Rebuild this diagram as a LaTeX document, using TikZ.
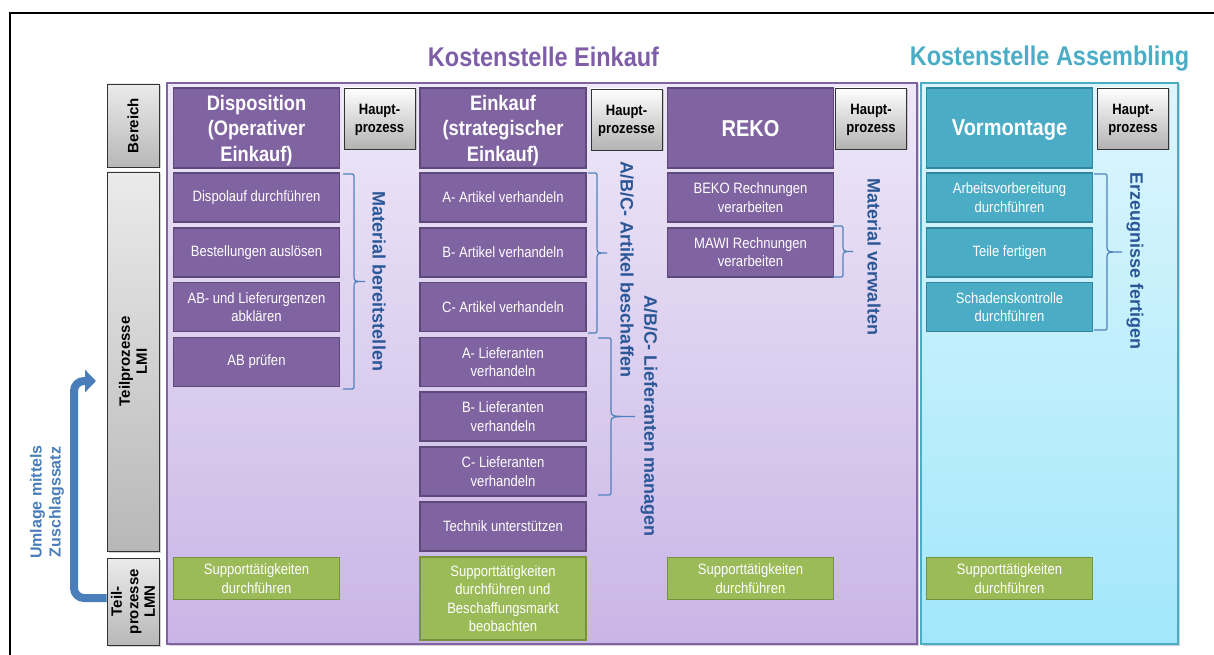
\documentclass[tikz,border=0pt]{standalone}
\usepackage{fontspec}
\setmainfont{Liberation Sans}[FakeStretch=0.87]
\newfontfamily\hochfont{Liberation Sans}
\usepackage{xcolor}
\usetikzlibrary{arrows.meta, shadows}

\definecolor{lila}{HTML}{8064A2}
\definecolor{lilaRand}{HTML}{5F497A}
\definecolor{lilaHell}{HTML}{EEE8F8}
\definecolor{lilaBg}{HTML}{C9B5E6}
\definecolor{titellila}{HTML}{7E5EA8}
\definecolor{tuerkis}{HTML}{4BACC6}
\definecolor{tuerkisRand}{HTML}{31859C}
\definecolor{tuerkisHell}{HTML}{DDF6FD}
\definecolor{tuerkisBg}{HTML}{A2E7FB}
\definecolor{gruen}{HTML}{9BBB59}
\definecolor{gruenRand}{HTML}{76923C}
\definecolor{klammerblau}{HTML}{4F81BD}
\definecolor{textblau}{HTML}{2B5797}
\definecolor{umlageblau}{HTML}{4A7EBB}

\begin{document}
\begin{tikzpicture}[x=1pt, y=-1pt,
    schatten/.style={drop shadow={shadow xshift=1.5pt, shadow yshift=-1.5pt, opacity=0.35}},
    kasten/.style={inner sep=0pt, align=center, text=white, line width=1.6pt},
    kopf/.style={kasten, draw=lilaRand, fill=lila, minimum width=166pt, minimum height=80pt,
        text depth=-1pt, font=\bfseries\fontsize{21}{25.5}\selectfont},
    teil/.style={kasten, draw=lilaRand, fill=lila, minimum width=166pt, minimum height=49pt,
        font=\fontsize{15}{18.5}\selectfont},
    support/.style={kasten, draw=gruenRand, fill=gruen, minimum width=166pt, minimum height=42pt,
        font=\fontsize{15}{18.5}\selectfont},
    haupt/.style={schatten, draw=black!80, line width=0.9pt, top color=white, bottom color=black!30,
        inner sep=0pt, align=center, minimum width=71pt, minimum height=61pt, text depth=-4.5pt,
        font=\bfseries\fontsize{15}{18}\selectfont},
    grau/.style={schatten, draw=black!80, line width=0.9pt, top color=black!8, bottom color=black!28,
        inner sep=0pt, minimum width=52pt},
    seite/.style={rotate=90, align=center, font=\hochfont\bfseries\fontsize{15}{17}\selectfont},
    klammer/.style={draw=klammerblau, line width=1.2pt},
    klammertext/.style={rotate=-90, text=textblau, font=\hochfont\bfseries\fontsize{18}{20}\selectfont},
    titel/.style={anchor=base, font=\bfseries\fontsize{27}{30}\selectfont},
    umlage/.style={draw=umlageblau, line width=8pt, rounded corners=10pt, -{Triangle[width=22pt,length=11pt]}}
]
    \useasboundingbox (0,0) rectangle (1214,655);
    % Rahmen
    \draw[line width=1.5pt] (10,655) -- (10,13) -- (1214,13);

    % Kostenstellen
    \draw[schatten, draw=lila, line width=1.2pt, top color=lilaHell, bottom color=lilaBg] (167,83) rectangle (917,644);
    \draw[schatten, draw=tuerkis, line width=1.5pt, top color=tuerkisHell, bottom color=tuerkisBg] (921,83) rectangle (1178,644);
    \node[titel, text=titellila] (tEinkauf) at (543.5,67) {Kostenstelle Einkauf};
    \node[titel, text=tuerkis] (tAssembling) at (1049.5,66) {Kostenstelle Assembling};

    % linke Spalte
    \node[grau, minimum height=83pt] (bereich) at (133,125.5) {};
    \node[seite] (bereichTxt) at (bereich) {Bereich};
    \node[grau, minimum height=379pt] (lmi) at (133,361.5) {};
    \node[seite] (lmiTxt) at (lmi) {Teilprozesse\\LMI};
    \node[grau, minimum height=87pt] (lmn) at (133,601.5) {};
    \node[seite, font=\hochfont\bfseries\fontsize{15}{16.5}\selectfont] (lmnTxt) at (lmn) {Teil-\\prozesse\\LMN};

    % Umlage
    \node[seite, text=umlageblau, font=\hochfont\bfseries\fontsize{16}{19}\selectfont] (umlageTxt) at (47,502) {Umlage mittels\\Zuschlagssatz};
    \coordinate (pfeilEnde) at (96,381);
    \draw[umlage] ([yshift=3.5pt]lmn.west) -- (74,598) -- (74,381) -- (pfeilEnde);

    % Hauptprozesse
    \node[kopf] (disp) at (256.5,128) {Disposition\\(Operativer\\Einkauf)};
    \node[haupt] (dispHP) at (379.5,118.5) {Haupt-\\prozess};
    \node[kopf] (eink) at (503,128) {Einkauf\\(strategischer\\Einkauf)};
    \node[haupt] (einkHP) at (626.5,119.5) {Haupt-\\prozesse};
    \node[kopf, text depth=-5pt, font=\bfseries\fontsize{23}{27}\selectfont] (reko) at (750.5,128) {REKO};
    \node[haupt] (rekoHP) at (871,118.5) {Haupt-\\prozess};
    \node[kopf, draw=tuerkisRand, fill=tuerkis, font=\bfseries\fontsize{23}{27}\selectfont] (vorm) at (1009.5,128) {Vormontage};
    \node[haupt] (vormHP) at (1133,118.5) {Haupt-\\prozess};

    % Teilprozesse LMI
    \foreach \name/\i/\txt in {d1/1/Dispolauf durchführen, d2/2/Bestellungen auslösen,
        d3/3/{AB- und Lieferurgenzen\\abklären}, d4/4/AB prüfen}
        \node[teil] (\name) at (256.5,{197.5+54.8*(\i-1)}) {\txt};
    \foreach \name/\i/\txt in {e1/1/A- Artikel verhandeln, e2/2/B- Artikel verhandeln,
        e3/3/C- Artikel verhandeln, e4/4/{A- Lieferanten\\verhandeln}, e5/5/{B- Lieferanten\\verhandeln},
        e6/6/{C- Lieferanten\\verhandeln}, e7/7/Technik unterstützen}
        \node[teil] (\name) at (503,{197.5+54.8*(\i-1)}) {\txt};
    \foreach \name/\i/\txt in {r1/1/{BEKO Rechnungen\\verarbeiten}, r2/2/{MAWI Rechnungen\\verarbeiten}}
        \node[teil] (\name) at (750.5,{197.5+54.8*(\i-1)}) {\txt};
    \foreach \name/\i/\txt in {v1/1/{Arbeitsvorbereitung\\durchführen}, v2/2/Teile fertigen,
        v3/3/{Schadenskontrolle\\durchführen}}
        \node[teil, draw=tuerkisRand, fill=tuerkis] (\name) at (1009.5,{197.5+54.8*(\i-1)}) {\txt};

    % Teilprozesse LMN
    \node[support] (sd) at (256.5,578.5) {Supporttätigkeiten\\durchführen};
    \node[support, minimum height=83pt] (se) at (503,598.5) {Supporttätigkeiten\\durchführen und\\Beschaffungsmarkt\\beobachten};
    \node[support] (sr) at (750.5,578.5) {Supporttätigkeiten\\durchführen};
    \node[support] (sv) at (1009.5,578.5) {Supporttätigkeiten\\durchführen};

    % Klammern
    \foreach \xa/\xb/\xc/\ya/\yb in {343/354/365/174/389, 588/597/607/173/333, 598/611/635/338/495,
        833/843/853/226/277, 1094/1107/1122/174/330} {
        \pgfmathsetmacro\mitte{(\ya+\yb)/2}
        \draw[klammer] (\xa,\ya) -- ({\xb-4},\ya) .. controls (\xb,\ya) .. (\xb,{\ya+4})
            -- (\xb,{\mitte-6}) .. controls (\xb,\mitte) .. (\xc,\mitte)
            .. controls (\xb,\mitte) .. (\xb,{\mitte+6}) -- (\xb,{\yb-4})
            .. controls (\xb,\yb) .. ({\xb-4},\yb) -- (\xa,\yb);
    }
    \node[klammertext] (mbTxt) at (379,281.5) {Material bereitstellen};
    \node[klammertext] (abTxt) at (627,270) {A/B/C- Artikel beschaffen};
    \node[klammertext] (lmTxt) at (649,416) {A/B/C- Lieferanten managen};
    \node[klammertext] (mvTxt) at (874,257) {Material verwalten};
    \node[klammertext] (efTxt) at (1135,261) {Erzeugnisse fertigen};
\end{tikzpicture}
\end{document}
